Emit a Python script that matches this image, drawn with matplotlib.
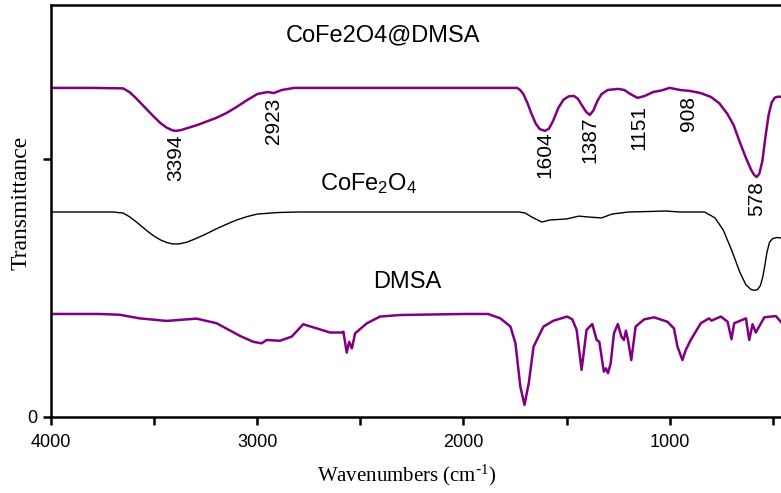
import numpy as np
import matplotlib
matplotlib.use('Agg')
import matplotlib.pyplot as plt

plt.rcParams['mathtext.default'] = 'regular'

# спектры (волновое число, условное пропускание)
wn_composite = [4000, 3800, 3650, 3620, 3590, 3560, 3530, 3500, 3470, 3440, 3410, 3394, 3370,
                3330, 3290, 3250, 3200, 3150, 3100, 3050, 3000, 2950, 2920, 2880, 2820, 2500,
                2000, 1740, 1725, 1710, 1690, 1670, 1650, 1630, 1604, 1585, 1565, 1540, 1515,
                1490, 1465, 1445, 1425, 1405, 1387, 1370, 1350, 1330, 1300, 1250, 1220, 1190,
                1155, 1120, 1080, 1040, 1000, 950, 900, 850, 800, 760, 720, 690, 660, 630, 605,
                590, 578, 565, 550, 535, 520, 505, 490, 475, 460]
tr_composite = [1.278, 1.278, 1.276, 1.262, 1.240, 1.215, 1.190, 1.165, 1.142, 1.124, 1.113,
                1.111, 1.114, 1.124, 1.134, 1.146, 1.161, 1.180, 1.204, 1.230, 1.254, 1.262,
                1.258, 1.270, 1.278, 1.278, 1.278, 1.278, 1.270, 1.255, 1.220, 1.178, 1.140,
                1.118, 1.111, 1.120, 1.150, 1.200, 1.232, 1.245, 1.247, 1.236, 1.210, 1.185,
                1.173, 1.190, 1.228, 1.254, 1.270, 1.274, 1.270, 1.254, 1.239, 1.247, 1.262,
                1.268, 1.278, 1.270, 1.266, 1.258, 1.243, 1.219, 1.177, 1.134, 1.068, 1.006,
                0.960, 0.940, 0.932, 0.945, 0.995, 1.090, 1.173, 1.222, 1.240, 1.244, 1.243]

wn_ferrite = [4000, 3700, 3650, 3620, 3590, 3560, 3530, 3500, 3470, 3440, 3410, 3380, 3340,
              3300, 3250, 3200, 3150, 3100, 3050, 3000, 2900, 2800, 1730, 1700, 1670, 1640,
              1620, 1580, 1500, 1440, 1400, 1330, 1280, 1200, 1100, 1020, 950, 830, 780, 740,
              700, 660, 630, 605, 590, 575, 560, 548, 538, 528, 515, 500, 480, 460]
tr_ferrite = [0.796, 0.796, 0.792, 0.778, 0.760, 0.740, 0.720, 0.702, 0.688, 0.678, 0.672,
              0.672, 0.679, 0.692, 0.710, 0.730, 0.748, 0.765, 0.778, 0.788, 0.794, 0.796,
              0.796, 0.792, 0.777, 0.765, 0.757, 0.765, 0.769, 0.780, 0.777, 0.773, 0.788,
              0.796, 0.798, 0.800, 0.796, 0.796, 0.773, 0.726, 0.649, 0.563, 0.513, 0.495,
              0.492, 0.494, 0.510, 0.545, 0.590, 0.640, 0.680, 0.693, 0.697, 0.695]

wn_dmsa = [4000, 3764, 3667, 3570, 3440, 3294, 3197, 3084, 3019, 2979, 2954, 2890, 2833,
           2777, 2711, 2647, 2590, 2582, 2566, 2554, 2541, 2525, 2468, 2404, 2307, 2000,
           1880, 1821, 1772, 1748, 1724, 1704, 1683, 1660, 1612, 1563, 1497, 1472, 1451,
           1427, 1403, 1375, 1354, 1341, 1319, 1309, 1299, 1286, 1270, 1251, 1234, 1222,
           1212, 1202, 1186, 1165, 1124, 1076, 1011, 979, 962, 938, 922, 898, 849, 809,
           797, 752, 719, 700, 687, 630, 614, 598, 582, 541, 485, 455]
tr_dmsa = [0.400, 0.400, 0.397, 0.383, 0.373, 0.382, 0.364, 0.315, 0.292, 0.286, 0.299,
           0.296, 0.312, 0.360, 0.344, 0.328, 0.328, 0.331, 0.250, 0.292, 0.266, 0.325,
           0.364, 0.390, 0.396, 0.400, 0.400, 0.383, 0.351, 0.287, 0.118, 0.047, 0.132,
           0.273, 0.351, 0.374, 0.390, 0.379, 0.338, 0.183, 0.338, 0.361, 0.299, 0.292,
           0.176, 0.189, 0.170, 0.208, 0.325, 0.361, 0.312, 0.299, 0.335, 0.299, 0.221,
           0.351, 0.379, 0.387, 0.370, 0.344, 0.273, 0.221, 0.260, 0.299, 0.364, 0.383,
           0.374, 0.390, 0.370, 0.302, 0.364, 0.383, 0.299, 0.360, 0.328, 0.387, 0.392,
           0.364]

# подписи пиков: волновое число и высота центра подписи
peak_labels = ['3394', '2923', '1604', '1387', '1151', '908', '578']
peak_pos = [3394, 2923, 1604, 1387, 1151, 908, 578]
peak_y = [1.006, 1.149, 1.018, 1.076, 1.126, 1.177, 0.847]

purple = '#800080'

fig = plt.figure(figsize=(7.81, 4.93), dpi=100)
ax = fig.add_axes([0.0653, 0.1542, 0.9347, 0.8357])

ax.plot(wn_composite, tr_composite, color=purple, lw=1.8)
ax.plot(wn_ferrite, tr_ferrite, color='black', lw=1.0)
ax.plot(wn_dmsa, tr_dmsa, color=purple, lw=1.8)

for lab, xp, yp in zip(peak_labels, peak_pos, peak_y):
    ax.text(xp, yp, lab, rotation=90, ha='center', va='center',
            fontsize=15, family='Liberation Sans')

ax.text(2390, 1.483, 'CoFe2O4@DMSA', ha='center', va='center',
        fontsize=17, family='Liberation Sans')
ax.text(2460, 0.905, r'CoFe$_2$O$_4$', ha='center', va='center',
        fontsize=17, family='Liberation Sans')
ax.text(2273, 0.524, 'DMSA', ha='center', va='center',
        fontsize=17, family='Liberation Sans')

ax.set_xlim(4000, 460)
ax.set_ylim(0, 1.6)
ax.set_xticks([4000, 3000, 2000, 1000])
ax.set_xticks([3500, 2500, 1500, 500], minor=True)
ax.set_yticks([0, 1])
ax.set_yticklabels(['0', ''])

for lab in ax.get_xticklabels() + ax.get_yticklabels():
    lab.set_family('Liberation Sans')
    lab.set_fontsize(13)

ax.tick_params(which='both', direction='out', length=6, width=1.8)
ax.tick_params(axis='x', pad=6)
ax.spines['right'].set_visible(False)
for s in ['left', 'bottom', 'top']:
    ax.spines[s].set_linewidth(1.8)

ax.set_xlabel(r'Wavenumbers (cm$^{\text{-}1}$)', family='Liberation Serif', fontsize=15)
ax.set_ylabel('Transmittance', family='Liberation Serif', fontsize=17)
ax.xaxis.set_label_coords(0.487, -0.112)
ax.yaxis.set_label_coords(-0.026, 0.52)

fig.savefig('out.png', dpi=100)
